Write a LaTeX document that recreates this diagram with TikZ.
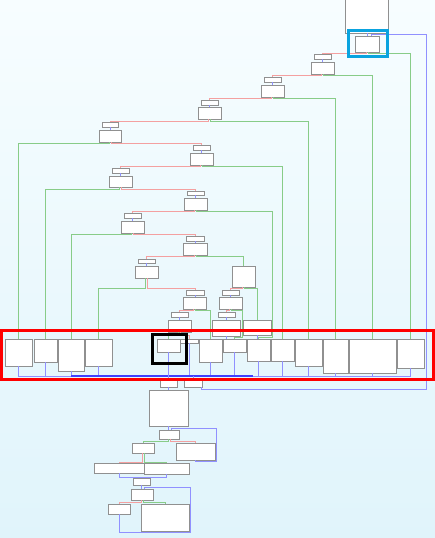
\documentclass[tikz,border=0pt]{standalone}
\usetikzlibrary{shadows}
\definecolor{bgtop}{HTML}{F7FDFF}
\definecolor{bgbot}{HTML}{E0F4FB}
\definecolor{redE}{HTML}{F4A0A0}
\definecolor{greenE}{HTML}{88CC88}
\definecolor{blueE}{HTML}{9090FF}
\definecolor{boxE}{HTML}{909090}
\definecolor{cyanH}{HTML}{0AA3DF}
\tikzset{
  blk/.style={draw=boxE, fill=white, line width=0.9pt, inner sep=0pt, outer sep=0pt,
    drop shadow={shadow xshift=0.7pt, shadow yshift=-0.7pt, fill=black!35, opacity=0.5}},
  re/.style={draw=redE, line width=1pt},
  ge/.style={draw=greenE, line width=1pt},
  be/.style={draw=blueE, line width=1pt},
  hl/.style={line width=3pt}
}
\newcommand\bx[5]{\node[blk,minimum width={(#4-#2)*1pt},minimum height={(#5-#3)*1pt}] (#1) at ({(#2+#4)/2},{(#3+#5)/2}) {};}
\begin{document}
\begin{tikzpicture}[x=1pt,y=-1pt]
\useasboundingbox (0,0) rectangle (435,538);
\shade[top color=bgtop, bottom color=bgbot] (0,0) rectangle (435,538);
% blocks
\bx{entry}{345}{-3}{388}{33}
\bx{A}{355}{36}{379}{52}
\bx{p1s}{314}{54}{331}{59}  \bx{p1}{311}{62}{334}{74}
\bx{p2s}{264}{77}{281}{82}  \bx{p2}{261}{85}{284}{97}
\bx{p3s}{201}{100}{218}{105} \bx{p3}{198}{107}{221}{119}
\bx{p4s}{102}{122}{118}{127} \bx{p4}{99}{130}{121}{142}
\bx{p5s}{193}{145}{210}{150} \bx{p5}{190}{153}{213}{165}
\bx{p6s}{112}{168}{129}{173} \bx{p6}{109}{176}{132}{187}
\bx{p7s}{187}{191}{204}{195} \bx{p7}{184}{198}{207}{210}
\bx{p8s}{124}{213}{141}{218} \bx{p8}{121}{221}{144}{233}
\bx{p9s}{186}{236}{204}{241} \bx{p9}{183}{243}{207}{255}
\bx{p10s}{138}{259}{155}{263} \bx{p10}{135}{266}{158}{278}
\bx{B}{232}{266}{255}{287}
\bx{p11s}{186}{290}{204}{295} \bx{p11}{183}{297}{206}{309}
\bx{p12s}{222}{290}{239}{295} \bx{p12}{219}{297}{242}{309}
\bx{p13s}{171}{312}{188}{317} \bx{p13}{168}{320}{191}{332}
\bx{p14s}{218}{312}{235}{317} \bx{p14}{212}{320}{240}{336}
\bx{C}{243}{320}{271}{335}
% bottom row
\bx{R1}{5}{339}{32}{366}
\bx{R2}{34}{339}{57}{362}
\bx{R3}{58}{339}{84}{371}
\bx{R4}{85}{339}{112}{366}
\bx{R5}{157}{339}{180}{352}
\bx{Rs}{180}{339}{198}{343}
\bx{R6}{199}{339}{222}{362}
\bx{R7}{223}{339}{246}{352}
\bx{R8}{247}{339}{270}{361}
\bx{R9}{271}{339}{294}{361}
\bx{R10}{295}{339}{322}{366}
\bx{R11}{323}{339}{348}{373}
\bx{R12}{349}{339}{396}{373}
\bx{R13}{397}{339}{424}{368}
% lower part
\bx{D0}{160}{380}{177}{387}
\bx{D1}{184}{380}{202}{387}
\bx{E}{149}{390}{188}{426}
\bx{F}{159}{430}{179}{439}
\bx{G}{176}{443}{215}{460}
\bx{H}{132}{443}{154}{453}
\bx{I}{94}{463}{144}{473}
\bx{J}{144}{463}{189}{474}
\bx{K}{133}{478}{150}{485}
\bx{L}{131}{489}{153}{500}
\bx{M}{108}{504}{130}{514}
\bx{N}{141}{504}{189}{531}
% helper coordinates
\coordinate (k7) at (272,337);
\coordinate (k12) at (242,337);
\coordinate (mrg) at (193,376);
\coordinate (bk1) at (426,389);
\coordinate (bk2) at (426,34);
\coordinate (gk) at (216,428);
\coordinate (lk1) at (190,532);
\coordinate (lk2) at (190,487);
% short blue links
\draw[be] (entry.south -| A.north) -- (A.north);
\foreach \n in {1,...,14}{\draw[be] (p\n s.south) -- (p\n s.south |- p\n.north);}
% red / green chains
\draw[re] ([xshift=-1pt]A.south) -- ++(0,1) -| (p1s.north);
\draw[ge] ([xshift=1pt]A.south) -- ++(0,1) -| (R13.north);
\draw[re] ([xshift=-1pt]p1.south) -- ++(0,1.7) -| (p2s.north);
\draw[ge] ([xshift=1pt]p1.south) -- ++(0,1.7) -| (R12.north);
\draw[re] ([xshift=-1pt]p2.south) -- ++(0,1.3) -| (p3s.north);
\draw[ge] ([xshift=1pt]p2.south) -- ++(0,1.3) -| (R11.north);
\draw[re] ([xshift=-1pt]p3.south) -- ++(0,2) -| (p4s.north);
\draw[ge] ([xshift=1pt]p3.south) -- ++(0,2) -| (R10.north);
\draw[ge] ([xshift=-1pt]p4.south) -- ++(0,1.7) -| (R1.north);
\draw[re] ([xshift=1pt]p4.south) -- ++(0,1.7) -| (p5s.north);
\draw[re] ([xshift=-1pt]p5.south) -- ++(0,1) -| (p6s.north);
\draw[ge] ([xshift=1pt]p5.south) -- ++(0,1) -| (R9.north);
\draw[ge] ([xshift=-1pt]p6.south) -- ++(0,2) -| (R2.north);
\draw[re] ([xshift=1pt]p6.south) -- ++(0,2) -| (p7s.north);
\draw[re] ([xshift=-1pt]p7.south) -- ++(0,1.7) -| (p8s.north);
\draw[ge] ([xshift=1pt]p7.south) -- ++(0,1.7) -| (k7) -| (R8.north);
\draw[ge] ([xshift=-1pt]p8.south) -- ++(0,1) -| (R3.north);
\draw[re] ([xshift=1pt]p8.south) -- ++(0,1) -| (p9s.north);
\draw[re] ([xshift=-1pt]p9.south) -- ++(0,1.7) -| (p10s.north);
\draw[ge] ([xshift=1pt]p9.south) -- ++(0,1.7) -| (B.north);
\draw[ge] ([xshift=-1pt]p10.south) -- ++(0,10) -| (R4.north);
\draw[re] ([xshift=1pt]p10.south) -- ++(0,10) -| (p11s.north);
\draw[re] ([xshift=-1pt]B.south) -- ++(0,1) -| (p12s.north);
\draw[ge] ([xshift=1pt]B.south) -- ++(0,1) -| (C.north);
\draw[re] ([xshift=-1pt]p11.south) -- ++(0,1.5) -| (p13s.north);
\draw[ge] ([xshift=1pt]p11.south) -- ++(0,1.5) -| (R6.north);
\draw[re] ([xshift=-1pt]p12.south) -- ++(0,1.5) -| (p14s.north);
\draw[ge] ([xshift=1pt]p12.south) -- ++(0,1.5) -| (k12) -| (R7.north);
\draw[ge] ([xshift=-1pt]p13.south) -- ++(0,3) -| (R5.north);
\draw[re] ([xshift=1pt]p13.south) -- ++(0,3) -| (Rs.north);
\draw[be] (p14.south) -- (p14.south |- R7.north);
\draw[be] (C.south) -- (C.south |- R8.north);
% merges below the row
\foreach \r in {R1,R2,R3,R4,Rs,R6,R7,R8,R9,R10,R11,R12,R13}{\draw[be] (\r.south) |- (mrg);}
\draw[be, line width=1.5pt, draw=blue!75] (R3.south |- mrg) -- (mrg) -- ++(60,0);
\draw[be] (mrg) -- (mrg |- D1.north);
\draw[be] (R5.south) -- (R5.south |- D0.north);
\draw[be] ([xshift=-0.5pt]D1.south east) |- (bk1) -- (bk2) -| ([xshift=4pt]A.north);
% lower part
\draw[be] (D0.south) -- (D0.south |- E.north);
\draw[be] (E.south) -- (E.south |- F.north);
\draw[ge] ([xshift=-1pt]F.south) -- ++(0,2) -| (H.north);
\draw[re] ([xshift=1pt]F.south) -- ++(0,2) -| (G.north);
\draw[be] (G.south) -- ++(0,1) -| (gk) -| ([xshift=2pt]F.north);
\draw[re] ([xshift=-1pt]H.south) -- ++(0,9) -| (I.north);
\draw[ge] ([xshift=1pt]H.south) -- ++(0,9) -| (J.north);
\draw[be] (I.south) -- ++(0,4) -| (K.north);
\draw[be] (J.south) -- ++(0,3) -| (K.north);
\draw[be] (K.south) -- (K.south |- L.north);
\draw[re] ([xshift=-1pt]L.south) -- ++(0,2) -| (M.north);
\draw[ge] ([xshift=1pt]L.south) -- ++(0,2) -| (N.north);
\draw[be] (M.south) |- (lk1) -- (lk2) -| ([xshift=2pt]L.north);
% highlights
\draw[hl, draw=cyanH] (348,30) rectangle (387,56);
\draw[hl, draw=black] (152,334) rectangle (186,363);
\draw[hl, draw=red] (1.5,330) rectangle (433,379);
\end{tikzpicture}
\end{document}
